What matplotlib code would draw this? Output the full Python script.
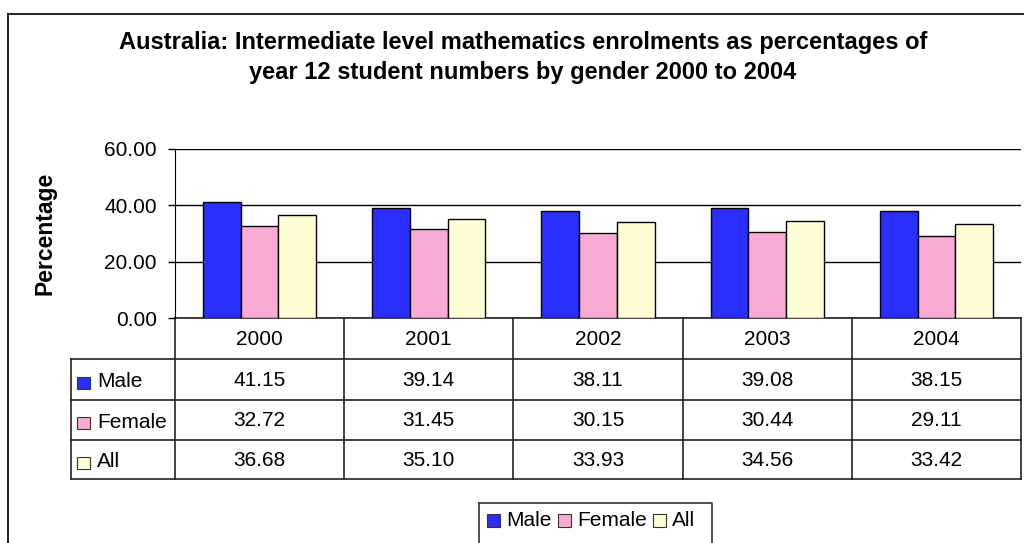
import matplotlib
matplotlib.use("Agg")
import matplotlib.pyplot as plt
from matplotlib.patches import Rectangle

plt.rcParams['font.family'] = ['Liberation Sans', 'DejaVu Sans']

# Datos del grafico
years = ['2000', '2001', '2002', '2003', '2004']
male = [41.15, 39.14, 38.11, 39.08, 38.15]
female = [32.72, 31.45, 30.15, 30.44, 29.11]
all_students = [36.68, 35.10, 33.93, 34.56, 33.42]
series_names = ['Male', 'Female', 'All']
colors = ['#2A2EFF', '#F9ABD3', '#FFFFD5']
y_ticks = [0, 20, 40, 60]

W, H = 1024, 543
fig = plt.figure(figsize=(W / 100, H / 100), dpi=100)

# Capa de fondo en pixeles para el marco, la tabla y la leyenda
bg = fig.add_axes([0, 0, 1, 1])
bg.set_xlim(0, W)
bg.set_ylim(H, 0)
bg.axis('off')

# marco exterior
bg.plot([8, W], [14, 14], color='black', lw=1.2)
bg.plot([8, 8], [14, H], color='black', lw=1.2)

# Titulo
bg.text(523, 43, 'Australia: Intermediate level mathematics enrolments as percentages of',
        ha='center', va='center', fontsize=17, fontweight='bold')
bg.text(523, 72, 'year 12 student numbers by gender 2000 to 2004',
        ha='center', va='center', fontsize=17, fontweight='bold')

# Area de barras
left, right, top, bottom = 175, 1021, 149, 318
ax = fig.add_axes([left / W, 1 - bottom / H, (right - left) / W, (bottom - top) / H])
ax.set_zorder(2)
ax.patch.set_alpha(0)
n = len(years)
bw = 0.67 / 3
for k, vals in enumerate([male, female, all_students]):
    xs = [i + (k - 1) * bw for i in range(n)]
    ax.bar(xs, vals, width=bw, color=colors[k], edgecolor='black', linewidth=1, zorder=3)
ax.set_xlim(-0.5, n - 0.5)
ax.set_ylim(0, 60)
ax.set_yticks(y_ticks)
ax.set_yticklabels([f'{t:.2f}' for t in y_ticks], fontsize=15)
ax.set_xticks([])
ax.yaxis.grid(True, color='black', lw=1)
ax.set_axisbelow(True)
for s in ['top', 'right', 'bottom']:
    ax.spines[s].set_visible(False)
ax.spines['left'].set_color('black')
ax.tick_params(axis='y', length=5, width=1, pad=8)
bg.text(45, 233, 'Percentage', rotation=90, ha='center', va='center',
        fontsize=16.5, fontweight='bold')

# Tabla de datos
col_w = (right - left) / n
row_edges = [318, 359, 400, 440, 479]
tab_left = 71
lc = '#222222'
bg.plot([left, right], [318, 318], color=lc, lw=1.2)
for y in row_edges[1:]:
    bg.plot([tab_left, right], [y, y], color=lc, lw=1.2)
bg.plot([tab_left, tab_left], [row_edges[1], row_edges[-1]], color=lc, lw=1.2)
for i in range(n + 1):
    x = left + i * col_w
    bg.plot([x, x], [318, row_edges[-1]], color=lc, lw=1.2)
for i, yr in enumerate(years):
    bg.text(left + (i + 0.5) * col_w, (row_edges[0] + row_edges[1]) / 2 + 1, yr,
            ha='center', va='center', fontsize=15)
for r, vals in enumerate([male, female, all_students]):
    yc = (row_edges[r + 1] + row_edges[r + 2]) / 2 + 1
    bg.add_patch(Rectangle((77, yc - 4), 13, 12, facecolor=colors[r], edgecolor='#333333', lw=0.8))
    bg.text(97, yc + 1, series_names[r], ha='left', va='center', fontsize=15)
    for i, v in enumerate(vals):
        bg.text(left + (i + 0.5) * col_w, yc, f'{v:.2f}', ha='center', va='center', fontsize=15)

# Leyenda
bg.plot([479, 712, 712], [503, 503, H], color='#333333', lw=1.2)
bg.plot([479, 479], [503, H], color='#333333', lw=1.2)
for name, c, sx in zip(series_names, colors, [487, 558, 653]):
    bg.add_patch(Rectangle((sx, 514), 13, 13, facecolor=c, edgecolor='#333333', lw=0.8))
    bg.text(sx + 19, 521, name, ha='left', va='center', fontsize=15)

fig.savefig('out.png', dpi=100)
